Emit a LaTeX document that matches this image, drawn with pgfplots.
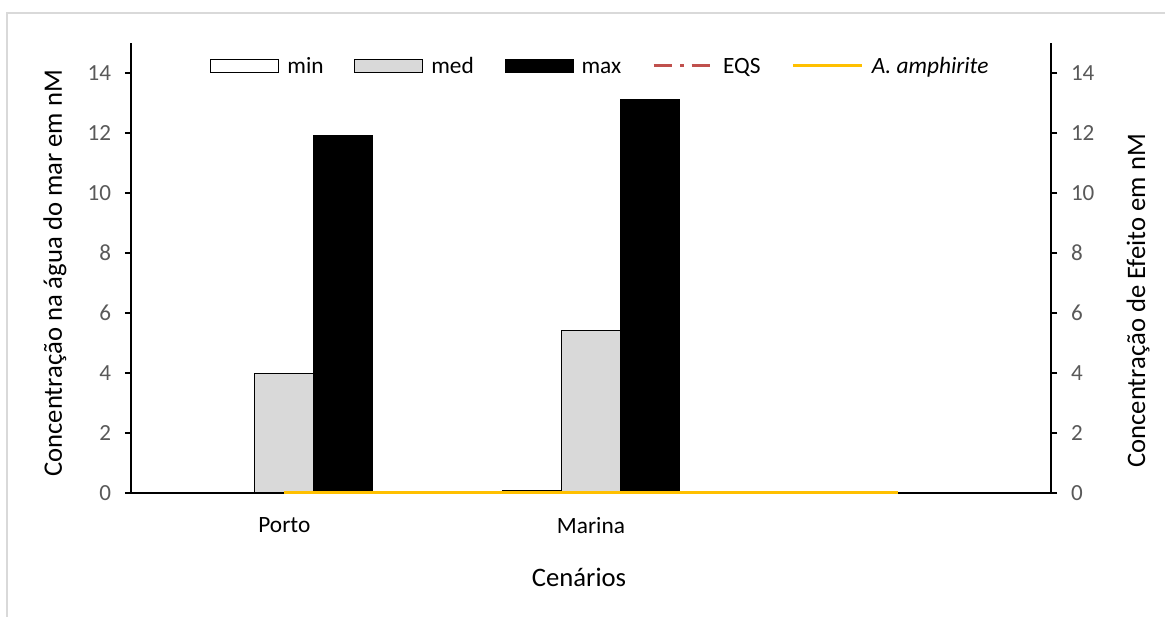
\documentclass[border=0pt]{standalone}
\usepackage{pgfplots}
\pgfplotsset{compat=1.18}
\usepackage{fontspec}
\setmainfont{Carlito}
\definecolor{ticktext}{HTML}{595959}
\definecolor{medfill}{HTML}{D9D9D9}
\definecolor{eqsred}{HTML}{C0504D}
\definecolor{amphy}{HTML}{FFC000}
\definecolor{framegray}{HTML}{D9D9D9}
\begin{document}
\begin{tikzpicture}
\path[use as bounding box] (0pt,0pt) rectangle (873.75pt,462.75pt);
\draw[framegray, line width=1.3pt] (5.25pt,-20pt) -- (5.25pt,453pt) -- (900pt,453pt);
\begin{axis}[
  at={(98.25pt,93pt)}, anchor=south west,
  scale only axis, width=690pt, height=337.5pt,
  xmin=-0.5, xmax=2.5, ymin=0, ymax=15,
  axis y line*=left, axis x line*=bottom,
  axis line style={-, black, line width=1.1pt},
  xtick={0,1,2}, xticklabels={Porto,Marina,{}},
  major x tick style={draw=none},
  ytick={0,2,...,14},
  tick align=outside, major tick length=4.5pt,
  major y tick style={black, line width=1.1pt},
  /pgf/number format/assume math mode=true,
  yticklabel style={font=\fontsize{17.3}{20}\selectfont, text=ticktext, xshift=-7pt},
  xticklabel style={font=\fontsize{17.5}{20}\selectfont, text=black, yshift=-10pt},
  xlabel={Cenários},
  xlabel style={font=\fontsize{20}{24}\selectfont, at={(axis description cs:0.487,0)}, anchor=center, yshift=-63pt},
  ylabel={Concentração na água do mar em nM},
  ylabel style={font=\fontsize{20}{24}\selectfont, at={(axis description cs:-0.0826,0.488)}, anchor=center},
  legend columns=5,
  legend style={at={(0.0859,0.942)}, anchor=west, draw=none, fill=none, inner sep=0pt,
    font=\fontsize{17.5}{20}\selectfont,
    nodes={text height=0.72em, text depth=0.22em},
    /tikz/every odd column/.append style={column sep=4pt},
    /tikz/every even column/.append style={column sep=21pt}},
]
\addplot[ybar, bar width=0.1924, bar shift=-0.1924, fill=white, draw=black, line width=0.8pt,
  legend image code/.code={\draw[fill=white,draw=black,line width=0.8pt] (0pt,-1.5pt) rectangle (51pt,8.5pt);}]
  coordinates {(0,0.02) (1,0.07) (2,0)};
\addlegendentry{min}
\addplot[ybar, bar width=0.1924, bar shift=0, fill=medfill, draw=black, line width=0.8pt,
  legend image code/.code={\draw[fill=medfill,draw=black,line width=0.8pt] (0pt,-1.5pt) rectangle (51pt,8.5pt);}]
  coordinates {(0,3.98) (1,5.42) (2,0)};
\addlegendentry{med}
\addplot[ybar, bar width=0.1924, bar shift=0.1924, fill=black, draw=black, line width=0.8pt,
  legend image code/.code={\draw[fill=black,draw=black,line width=0.8pt] (0pt,-1.5pt) rectangle (51pt,8.5pt);}]
  coordinates {(0,11.93) (1,13.1) (2,0)};
\addlegendentry{max}
\addlegendimage{legend image code/.code={\draw[eqsred, line width=2.4pt, dash pattern=on 14pt off 6pt on 2.5pt off 6pt] (0pt,3.5pt) -- (45pt,3.5pt);}}
\addlegendentry{EQS}
\addlegendimage{legend image code/.code={\draw[amphy, line width=2.4pt] (4pt,3.5pt) -- (56pt,3.5pt);}}
\addlegendentry{\textit{A. amphirite}}
\end{axis}
\begin{axis}[
  at={(98.25pt,93pt)}, anchor=south west,
  scale only axis, width=690pt, height=337.5pt,
  xmin=-0.5, xmax=2.5, ymin=0, ymax=15,
  axis x line=none, axis y line*=right,
  axis line style={-, black, line width=1.1pt},
  ytick={0,2,...,14},
  tick align=outside, major tick length=4.5pt,
  major y tick style={black, line width=1.1pt},
  /pgf/number format/assume math mode=true,
  yticklabel style={font=\fontsize{17.3}{20}\selectfont, text=ticktext, xshift=7pt},
  ylabel={Concentração de Efeito em nM},
  ylabel style={font=\fontsize{20}{24}\selectfont, at={(axis description cs:1.0946,0.427)}, anchor=center},
  clip=false,
]
\addplot[eqsred, line width=2.2pt, dash pattern=on 14pt off 6pt on 2.5pt off 6pt] coordinates {(0,0.03) (1,0.03) (2,0.03)};
\addplot[amphy, line width=2.4pt] coordinates {(0,0.02) (1,0.02) (2,0.02)};
\end{axis}
\end{tikzpicture}
\end{document}
